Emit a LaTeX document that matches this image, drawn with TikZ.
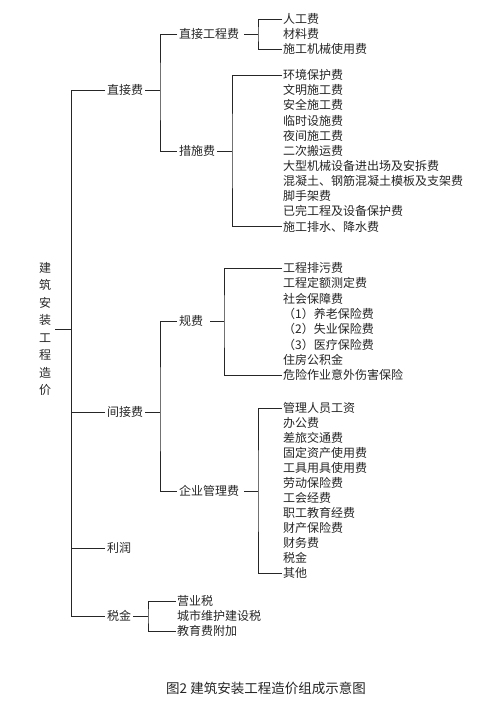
\documentclass[tikz,border=0pt]{standalone}
\usepackage{fontspec}
\newfontfamily\cjk{Noto Sans CJK SC}
\begin{document}
\begin{tikzpicture}[x=1pt,y=-1pt,
  txt/.style={font=\cjk\fontsize{12}{14}\selectfont, inner sep=1pt, anchor=west, text=black!85},
  lvl/.style={font=\cjk\fontsize{12}{14}\selectfont, inner sep=2pt, anchor=west, text=black!85},
  ln/.style={line width=0.9pt, draw=black!85}]
\useasboundingbox[fill=white] (0,0) rectangle (485,711);

% root
\node[font=\cjk\fontsize{12}{17.5}\selectfont, align=center, inner sep=4pt, text=black!85] (root) at (45,329)
  {建\\筑\\安\\装\\工\\程\\造\\价};

% level 1
\node[lvl] (zjf) at (105,90) {直接费};
\node[lvl] (jjf) at (105,412) {间接费};
\node[lvl] (lr) at (105,548) {利润};
\node[lvl] (sj) at (105,616) {税金};
\coordinate (top) at (71,90);
\coordinate (bot) at (71,616);
\draw[ln] (zjf.west) -- (top) -- (bot) -- (sj.west);
\draw[ln] (jjf.west) -- (jjf.west -| top);
\draw[ln] (lr.west) -- (lr.west -| top);
\draw[ln] (root.east) -- (root.east -| top);

% level 2
\node[lvl] (zjgc) at (177,34) {直接工程费};
\node[lvl] (csf) at (177,151) {措施费};
\node[lvl] (gf) at (177,321) {规费};
\node[lvl] (qygl) at (177,491) {企业管理费};
\coordinate (j1) at (160,90);
\coordinate (j2) at (160,412);
\draw[ln] (zjf.east) -- (j1);
\draw[ln] (zjgc.west) -| (j1) |- (csf.west);
\draw[ln] (jjf.east) -- (j2);
\draw[ln] (gf.west) -| (j2) |- (qygl.west);

% level 3: 直接工程费
\foreach \t [count=\i] in {人工费,材料费,施工机械使用费}
  \node[txt] (a\i) at (282,{19+15*(\i-1)}) {\t};
\coordinate (k1) at (258,34);
\draw[ln] ([xshift=3pt]zjgc.east) -- (k1);
\draw[ln] (a1.west) -| (k1) |- (a3.west);

% 措施费
\foreach \t [count=\i] in {环境保护费,文明施工费,安全施工费,临时设施费,夜间施工费,二次搬运费,大型机械设备进出场及安拆费,混凝土、钢筋混凝土模板及支架费,脚手架费,已完工程及设备保护费,施工排水、降水费}
  \node[txt] (b\i) at (282,{75+15.15*(\i-1)}) {\t};
\coordinate (k2) at (232,151);
\draw[ln] (csf.east) -- (k2);
\draw[ln] (b1.west) -| (k2) |- (b11.west);

% 规费
\foreach \t [count=\i] in {工程排污费,工程定额测定费,社会保障费,（1）养老保险费,（2）失业保险费,（3）医疗保险费,住房公积金,危险作业意外伤害保险}
  \node[txt] (c\i) at (282,{268+15.29*(\i-1)}) {\t};
\coordinate (k3) at (224,321);
\draw[ln] ([xshift=5pt]gf.east) -- (k3);
\draw[ln] (c1.west) -| (k3) |- (c8.west);

% 企业管理费
\foreach \t [count=\i] in {管理人员工资,办公费,差旅交通费,固定资产使用费,工具用具使用费,劳动保险费,工会经费,职工教育经费,财产保险费,财务费,税金,其他}
  \node[txt] (d\i) at (282,{408+15*(\i-1)}) {\t};
\coordinate (k4) at (258,491);
\draw[ln] ([xshift=3pt]qygl.east) -- (k4);
\draw[ln] (d1.west) -| (k4) |- (d12.west);

% 税金
\foreach \t [count=\i] in {营业税,城市维护建设税,教育费附加}
  \node[txt] (e\i) at (176,{601+15*(\i-1)}) {\t};
\coordinate (k5) at (148,616);
\draw[ln] (sj.east) -- (k5);
\draw[ln] (e1.west) -| (k5) |- (e3.west);

% caption
\node[font=\cjk\fontsize{13.5}{16}\selectfont, inner sep=0pt, text=black!85] (cap) at (266,688)
  {图2 建筑安装工程造价组成示意图};
\end{tikzpicture}
\end{document}
